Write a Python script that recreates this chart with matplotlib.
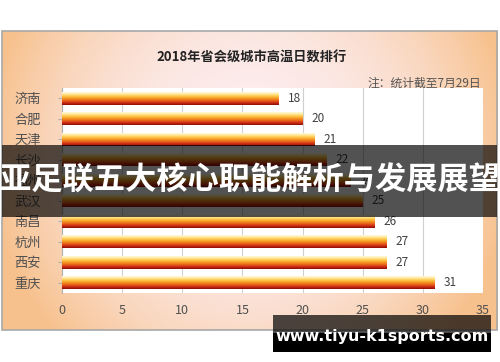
import numpy as np
import matplotlib
matplotlib.use("Agg")
import matplotlib.pyplot as plt
from matplotlib.colors import LinearSegmentedColormap
from matplotlib.patches import Rectangle

plt.rcParams["font.family"] = ["Noto Sans CJK SC", "DejaVu Sans"]

cities = ["济南", "合肥", "天津", "长沙", "福州", "武汉", "南昌", "杭州", "西安", "重庆"]
days = [18, 20, 21, 22, 24, 25, 26, 27, 27, 31]
xticks = [0, 5, 10, 15, 20, 25, 30, 35]

W, H = 500, 362
fig = plt.figure(figsize=(W / 100, H / 100), dpi=100)

# background panel with soft peach gradient
bg = fig.add_axes([0, 0, 1, 1], zorder=0)
bg.set_xlim(0, W); bg.set_ylim(H, 0); bg.axis("off")
yy, xx = np.mgrid[0:300, 0:496]
u = (xx - 248) / 248.0
v = (yy - 120) / 210.0
t = np.clip(np.sqrt(u**2 * 0.9 + v**2 * 0.6), 0, 1) ** 2.2
center = np.array([0.99, 0.93, 0.94])
edge = np.array([0.97, 0.76, 0.56])
img = center[None, None, :] * (1 - t[..., None]) + edge[None, None, :] * t[..., None]
bg.imshow(img, extent=[2, 498, 330, 31], aspect="auto", zorder=0)
bg.add_patch(Rectangle((2, 31), 495, 299, fill=False, ec="#a8a8a8", lw=1.2, zorder=1))

ax = fig.add_axes([0.124, 0.191, 0.842, 0.566], zorder=1)
ax.set_facecolor("white")
ypos = np.arange(len(cities))
bars = ax.barh(ypos, days, height=0.64, color="none", zorder=3)

bar_cmap = LinearSegmentedColormap.from_list(
    "bar", ["#fffbe8", "#fff0b8", "#ffcf55", "#f7a024", "#ea6a1c", "#d12e14", "#8e0e0a"])
grad = np.linspace(0, 1, 64).reshape(-1, 1)
for b in bars:
    x0, y0 = b.get_x(), b.get_y()
    w, h = b.get_width(), b.get_height()
    im = ax.imshow(grad, cmap=bar_cmap, aspect="auto",
                   extent=[x0, x0 + w, y0 + h, y0], zorder=3)
    im.set_clip_path(b)
    ax.text(x0 + w + 0.75, y0 + h / 2, str(int(w)), va="center", ha="left",
            fontsize=8.5, color="#404040", zorder=4)

ax.set_xlim(0, 35)
ax.set_ylim(len(cities) - 0.5, -0.5)
ax.set_xticks(xticks)
ax.set_xticklabels([str(x) for x in xticks], fontsize=9, color="#505050")
ax.set_yticks(ypos)
ax.set_yticklabels(cities, fontsize=9.5, color="#505050")
ax.grid(axis="x", color="#d0d0d0", lw=0.8, zorder=0)
ax.set_axisbelow(True)
for s in ["top", "right", "bottom"]:
    ax.spines[s].set_visible(False)
ax.spines["left"].set_color("#b0b0b0")
ax.tick_params(axis="x", length=0, pad=8)
ax.tick_params(axis="y", length=3, color="#b0b0b0", pad=12)

fig.text(252 / W, 1 - 58 / H, "2018年省会级城市高温日数排行", ha="center", va="center",
         fontsize=9.5, fontweight="bold", color="#222222")
fig.text(481 / W, 1 - 83 / H, "注：统计截至7月29日", ha="right", va="center",
         fontsize=8.5, color="#555555")

# overlay banner
ov = fig.add_axes([0, 0, 1, 1], zorder=5)
ov.set_xlim(0, W); ov.set_ylim(H, 0); ov.axis("off")
ov.add_patch(Rectangle((2, 145), 495, 72, color="black", alpha=0.68, lw=0))
ov.text(250, 181, "亚足联五大核心职能解析与发展展望", ha="center", va="center",
        fontsize=22.5, fontweight="heavy", color="white")
ov.add_patch(Rectangle((273, 315), 218, 18, color="black", alpha=0.7, lw=0))
ov.add_patch(Rectangle((273, 333), 218, 19, color="black", lw=0))
ov.text(382, 336, "www.tiyu-k1sports.com", ha="center", va="center",
        fontsize=11.5, fontweight="bold", color="white", family="DejaVu Sans")

fig.savefig("out.png", dpi=100)
